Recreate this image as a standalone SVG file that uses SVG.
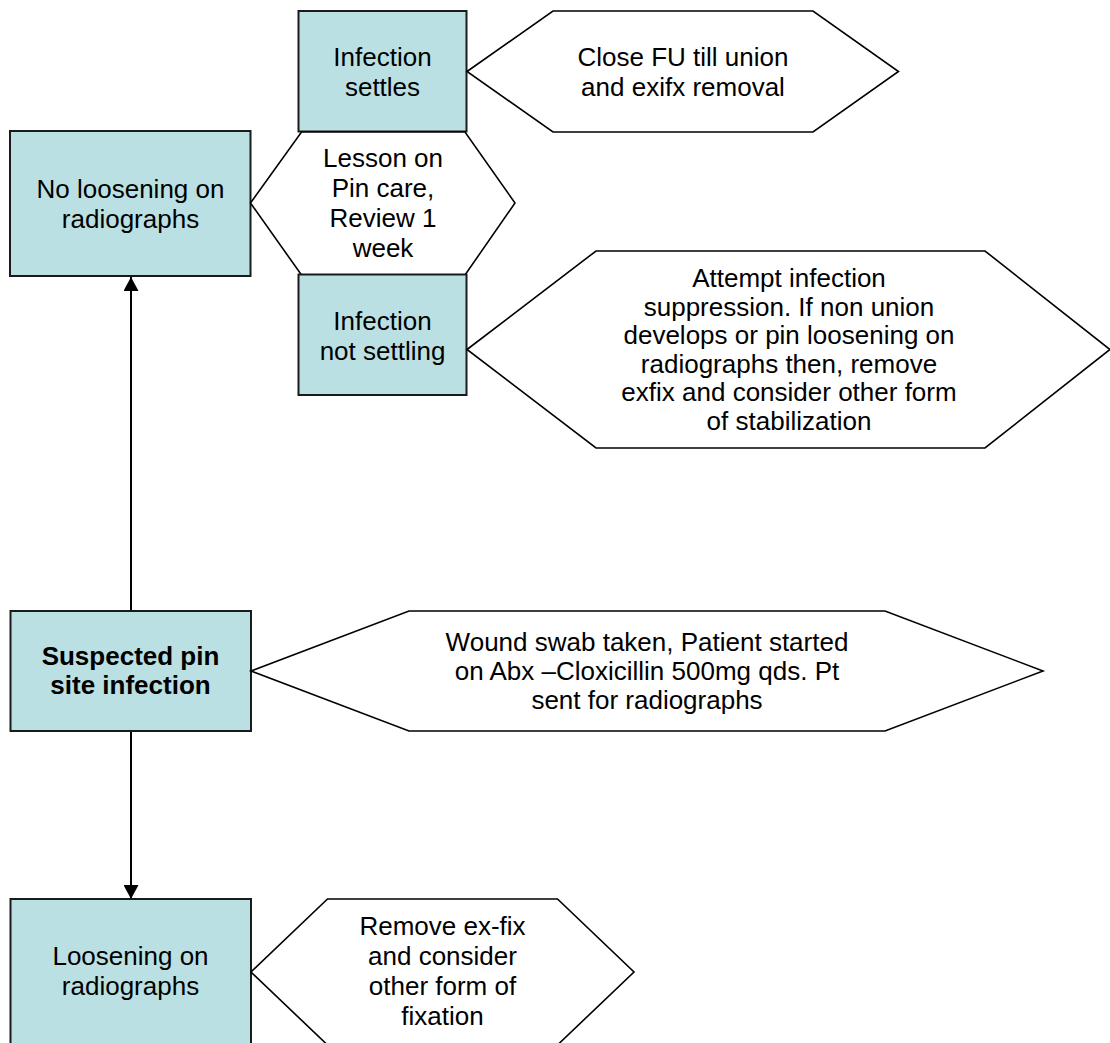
<svg xmlns="http://www.w3.org/2000/svg" width="1110" height="1043" viewBox="0 0 1110 1043">
  <style>
    .box { fill: #BBE0E3; stroke: #1a1a1a; stroke-width: 2; }
    .hex { fill: #ffffff; stroke: #000000; stroke-width: 1.6; stroke-linejoin: miter; }
    .lbl { font-family: "Liberation Sans", Arial, sans-serif; font-size: 26px; fill: #000000; text-anchor: middle; }
    .bold { font-weight: bold; }
    .conn { stroke: #000000; stroke-width: 2; fill: none; }
  </style>
  <defs>
    <marker id="arrow" viewBox="0 0 14 15" refX="14" refY="7.5" markerWidth="14" markerHeight="15" markerUnits="userSpaceOnUse" orient="auto">
      <path d="M0,0 L14,7.5 L0,15 Z" fill="#000000"/>
    </marker>
  </defs>

  <rect width="1110" height="1043" fill="#ffffff"/>

  <!-- connectors -->
  <g id="connectors">
    <line class="conn" x1="131" y1="611" x2="131" y2="277" marker-end="url(#arrow)"/>
    <line class="conn" x1="131" y1="731" x2="131" y2="899" marker-end="url(#arrow)"/>
  </g>

  <!-- top branch -->
  <g id="no-loosening">
    <rect class="box" x="10" y="131" width="240.5" height="145"/>
    <text class="lbl" x="130.5" y="198">No loosening on</text>
    <text class="lbl" x="130.5" y="228">radiographs</text>
  </g>

  <g id="infection-settles">
    <rect class="box" x="298.5" y="11" width="168" height="120.5"/>
    <text class="lbl" x="382.5" y="66">Infection</text>
    <text class="lbl" x="382.5" y="96">settles</text>
  </g>

  <g id="close-fu">
    <polygon class="hex" points="467,71.5 553,11 813,11 898.5,71.5 813,132 553,132"/>
    <text class="lbl" x="683" y="66">Close FU till union</text>
    <text class="lbl" x="683" y="96">and exifx removal</text>
  </g>

  <g id="pin-care">
    <polygon class="hex" points="250.5,203 301.5,132 465,132 515,203 465,275 301.5,275"/>
    <text class="lbl" x="383" y="167">Lesson on</text>
    <text class="lbl" x="383" y="197">Pin care,</text>
    <text class="lbl" x="383" y="227">Review 1</text>
    <text class="lbl" x="383" y="257">week</text>
  </g>

  <g id="infection-not-settling">
    <rect class="box" x="298.5" y="274.5" width="168" height="120.5"/>
    <text class="lbl" x="382.5" y="330">Infection</text>
    <text class="lbl" x="382.5" y="360">not settling</text>
  </g>

  <g id="suppression">
    <polygon class="hex" points="467,349.5 596,251 985,251 1110,349.5 985,448 596,448"/>
    <text class="lbl" x="789" y="287">Attempt infection</text>
    <text class="lbl" x="789" y="315.5">suppression. If non union</text>
    <text class="lbl" x="789" y="344">develops or pin loosening on</text>
    <text class="lbl" x="789" y="372.5">radiographs then, remove</text>
    <text class="lbl" x="789" y="401">exfix and consider other form</text>
    <text class="lbl" x="789" y="429.5">of stabilization</text>
  </g>

  <!-- start node -->
  <g id="suspected-infection">
    <rect class="box" x="10.5" y="611" width="240.5" height="120"/>
    <text class="lbl bold" x="130.5" y="665">Suspected pin</text>
    <text class="lbl bold" x="130.5" y="694">site infection</text>
  </g>

  <g id="wound-swab">
    <polygon class="hex" points="251,671 409,611 885,611 1043,671 885,731 409,731"/>
    <text class="lbl" x="647" y="651">Wound swab taken, Patient started</text>
    <text class="lbl" x="647" y="680">on Abx –Cloxicillin 500mg qds. Pt</text>
    <text class="lbl" x="647" y="709">sent for radiographs</text>
  </g>

  <!-- bottom branch -->
  <g id="loosening">
    <rect class="box" x="10.5" y="899" width="240.5" height="146"/>
    <text class="lbl" x="130.5" y="965">Loosening on</text>
    <text class="lbl" x="130.5" y="995">radiographs</text>
  </g>

  <g id="remove-exfix">
    <polygon class="hex" points="251,972 327.5,899 557.5,899 634,972 557.5,1045 327.5,1045"/>
    <text class="lbl" x="442.5" y="935">Remove ex-fix</text>
    <text class="lbl" x="442.5" y="965">and consider</text>
    <text class="lbl" x="442.5" y="995">other form of</text>
    <text class="lbl" x="442.5" y="1025">fixation</text>
  </g>
</svg>
